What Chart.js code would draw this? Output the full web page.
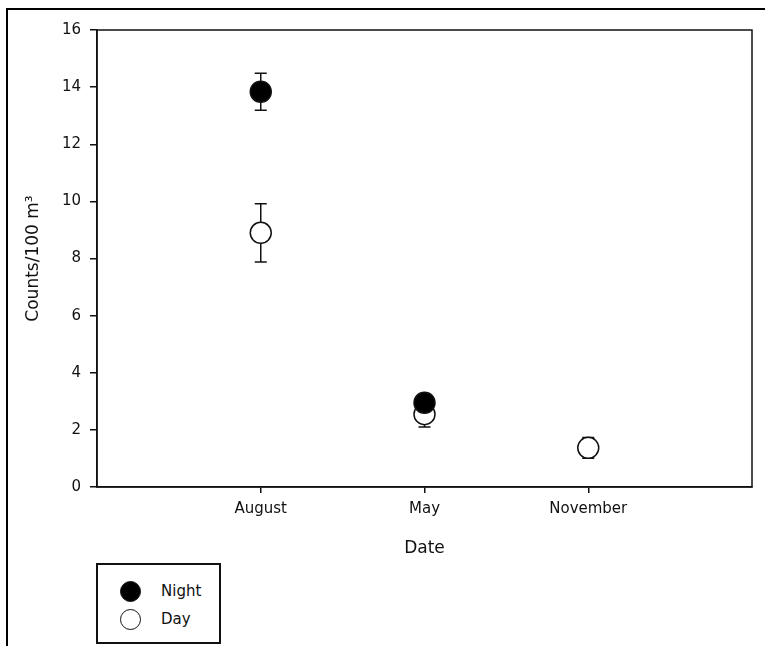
<!DOCTYPE html>
<html lang="en">
<head>
  <title>Counts per 100 m3 by date</title>
  <script src="https://cdn.jsdelivr.net/npm/chart.js"></script>
  <style>
    html, body {
      margin: 0;
      padding: 0;
      background: #fff;
      width: 765px;
      height: 646px;
      overflow: hidden;
      font-family: 'DejaVu Sans', sans-serif;
      color: #111;
    }

    #frame {
      position: absolute;
      left: 6px;
      top: 8px;
      width: 765px;
      height: 646px;
      border-left: 2px solid #000;
      border-top: 2px solid #000;
    }

    #chart {
      position: absolute;
      left: 0;
      top: 0;
    }

    .legend {
      position: absolute;
      left: 96px;
      top: 563px;
      width: 121px;
      height: 77px;
      border: 2px solid #111;
      background: #fff;
    }

    .legend div {
      position: absolute;
      left: 22px;
      height: 22px;
      line-height: 22px;
      font-size: 15px;
    }

    .legend span {
      display: inline-block;
      width: 21px;
      height: 21px;
      border: 1.5px solid #111;
      border-radius: 50%;
      vertical-align: middle;
      margin-right: 20px;
      box-sizing: border-box;
    }
  </style>
</head>
<body>

<div id="frame"></div>
<canvas id="chart" width="765" height="646"></canvas>

<!-- 凡例 -->
<div class="legend">
  <div style="top: 15px;"><span style="background:#000;"></span>Night</div>
  <div style="top: 43px;"><span style="background:#fff;"></span>Day</div>
</div>

<script>
  // データ
  let categories = ["August", "May", "November"];
  let nightValues = [13.84, 2.95, null];
  let nightErrors = [0.65, 0.15, null];
  let dayValues = [8.9, 2.55, 1.37];
  let dayErrors = [1.02, 0.45, 0.36];
  let yTicks = [0, 2, 4, 6, 8, 10, 12, 14, 16];

  let toPoints = values => values.map((v, i) => ({ x: i + 1, y: v }));

  // エラーバー（点の下に描く）
  let errorBars = {
    id: 'errorBars',
    beforeDatasetsDraw(chart) {
      let ctx = chart.ctx;
      let xs = chart.scales.x;
      let ys = chart.scales.y;
      let errs = [nightErrors, dayErrors];
      ctx.save();
      ctx.strokeStyle = '#111';
      ctx.lineWidth = 1.5;
      chart.data.datasets.forEach((ds, d) => {
        ds.data.forEach((p, i) => {
          if (p.y == null || errs[d][i] == null) return;
          let x = xs.getPixelForValue(p.x);
          let top = ys.getPixelForValue(p.y + errs[d][i]);
          let bot = ys.getPixelForValue(p.y - errs[d][i]);
          ctx.beginPath();
          ctx.moveTo(x, top); ctx.lineTo(x, bot);
          ctx.moveTo(x - 6, top); ctx.lineTo(x + 6, top);
          ctx.moveTo(x - 6, bot); ctx.lineTo(x + 6, bot);
          ctx.stroke();
        });
      });
      ctx.restore();
    }
  };

  // 枠線
  let plotBox = {
    id: 'plotBox',
    afterDraw(chart) {
      let a = chart.chartArea;
      let ctx = chart.ctx;
      ctx.save();
      ctx.strokeStyle = '#111';
      ctx.lineWidth = 1.5;
      ctx.strokeRect(a.left, a.top, a.right - a.left, a.bottom - a.top);
      ctx.restore();
    }
  };

  let tickFont = { family: "'DejaVu Sans', sans-serif", size: 15 };
  let titleFont = { family: "'DejaVu Sans', sans-serif", size: 17 };

  new Chart(document.getElementById('chart'), {
    type: 'scatter',
    data: {
      datasets: [{
        label: 'Night',
        data: toPoints(nightValues),
        pointRadius: 10.5,
        pointHoverRadius: 10.5,
        backgroundColor: '#000',
        borderColor: '#111',
        borderWidth: 1.5
      }, {
        label: 'Day',
        data: toPoints(dayValues),
        pointRadius: 10.5,
        pointHoverRadius: 10.5,
        backgroundColor: '#fff',
        borderColor: '#111',
        borderWidth: 1.5
      }]
    },
    options: {
      responsive: false,
      animation: false,
      devicePixelRatio: 1,
      layout: { padding: { left: 0, right: 13, top: 30, bottom: 79 } },
      plugins: {
        legend: { display: false },
        tooltip: { enabled: false }
      },
      scales: {
        x: {
          type: 'linear',
          min: 0,
          max: 4,
          afterBuildTicks: s => { s.ticks = categories.map((c, i) => ({ value: i + 1 })); },
          afterFit: s => { s.height = 80; },
          ticks: {
            color: '#111',
            font: tickFont,
            padding: 7,
            maxRotation: 0,
            callback: v => categories[v - 1]
          },
          grid: { drawOnChartArea: false, tickLength: 6, color: '#111', lineWidth: 1.5 },
          border: { color: '#111', width: 1.5 },
          title: { display: true, text: 'Date', color: '#111', font: titleFont, padding: { top: 0, bottom: 8 } }
        },
        y: {
          min: 0,
          max: 16,
          afterBuildTicks: s => { s.ticks = yTicks.map(v => ({ value: v })); },
          afterFit: s => { s.width = 97; },
          ticks: { color: '#111', font: tickFont, padding: 9 },
          grid: { drawOnChartArea: false, tickLength: 7, color: '#111', lineWidth: 1.5 },
          border: { color: '#111', width: 1.5 },
          title: { display: true, text: 'Counts/100 m³', color: '#111', font: titleFont, padding: { top: 23, bottom: 0 } }
        }
      }
    },
    plugins: [errorBars, plotBox]
  });
</script>

</body>
</html>
